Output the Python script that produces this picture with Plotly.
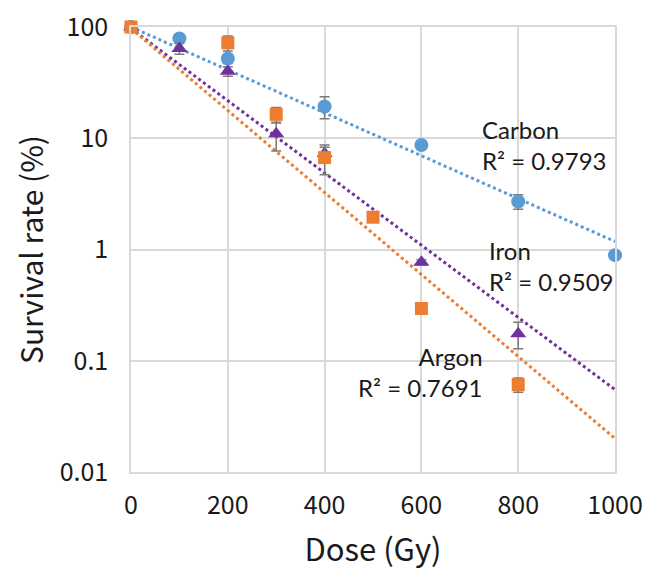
import plotly.graph_objects as go

# ---- data ----
carbon_dose = [0, 100, 200, 400, 600, 800, 1000]
carbon_surv = [100, 79, 52, 19.3, 8.7, 2.7, 0.89]
carbon_err = [0, 4, 5, 4.3, 0.3, 0.4, 0.03]

iron_dose = [0, 100, 200, 300, 400, 600, 800]
iron_surv = [100, 64, 40, 11, 7.3, 0.77, 0.175]
iron_err_plus = [0, 7, 4, 2.7, 1.0, 0.04, 0.047]
iron_err_minus = [0, 7, 4, 3.3, 1.0, 0.04, 0.047]

argon_dose = [0, 200, 300, 400, 500, 600, 800]
argon_surv = [100, 72, 16.4, 6.7, 1.95, 0.295, 0.061]
argon_err = [10, 11, 2.5, 2.0, 0.05, 0.01, 0.009]

# exponential trendline end values (at dose 0 and 1000)
trend_dose = [0, 1000]
carbon_trend = [100, 1.18]
iron_trend = [97, 0.055]
argon_trend = [97, 0.020]

labels = ["Carbon", "Iron", "Argon"]
r2_labels = ["R² = 0.9793", "R² = 0.9509", "R² = 0.7691"]

y_ticks = [0.01, 0.1, 1, 10, 100]
y_ticktext = ["0.01", "0.1", "1", "10", "100"]
x_ticks = [0, 200, 400, 600, 800, 1000]

BLUE = "#5B9BD5"
ORANGE = "#ED7D31"
PURPLE = "#7030A0"
ERR = "#7a7a7a"
FONT = "Noto Sans CJK JP"
ANN_FONT = "Lato"
TXT = "#1a1a1a"

fig = go.Figure()

for ty, col in [(carbon_trend, BLUE), (iron_trend, PURPLE), (argon_trend, ORANGE)]:
    fig.add_trace(go.Scatter(x=trend_dose, y=ty, mode="lines",
                             line=dict(color=col, width=3, dash="dot"),
                             hoverinfo="skip", cliponaxis=False))

fig.add_trace(go.Scatter(
    x=carbon_dose, y=carbon_surv, mode="markers", name="Carbon",
    marker=dict(symbol="circle", size=14, color=BLUE),
    error_y=dict(type="data", array=carbon_err, color=ERR, thickness=1.5, width=5),
    cliponaxis=False))
fig.add_trace(go.Scatter(
    x=iron_dose, y=iron_surv, mode="markers", name="Iron",
    marker=dict(symbol="triangle-up", size=14, color=PURPLE),
    error_y=dict(type="data", array=iron_err_plus, arrayminus=iron_err_minus,
                 symmetric=False, color=ERR, thickness=1.5, width=5),
    cliponaxis=False))
fig.add_trace(go.Scatter(
    x=argon_dose, y=argon_surv, mode="markers", name="Argon",
    marker=dict(symbol="square", size=13, color=ORANGE),
    error_y=dict(type="data", array=argon_err, color=ERR, thickness=1.5, width=5),
    cliponaxis=False))

# plot area in page pixels (the page adds an 8px body margin)
OFF = 8
W, H = 658 - OFF, 572 - OFF
L, R_, T, B = 131, 615, 27, 472
def px(xp):
    return (xp - L) / (R_ - L)
def py(yp):
    return (B - yp) / (B - T)

ann = [
    (labels[0], r2_labels[0], 480, 145, "left"),
    (labels[1], r2_labels[1], 487, 266, "left"),
    (labels[2], r2_labels[2], 485, 372, "right"),
]
for name, r2, xp, yp, anc in ann:
    fig.add_annotation(text=name + "<br>" + r2, x=px(xp), y=py(yp),
                       xref="paper", yref="paper", align=anc,
                       xanchor=anc, yanchor="middle", showarrow=False,
                       font=dict(family=ANN_FONT, size=24, color=TXT))

axis_common = dict(showgrid=True, gridcolor="#d9d9d9", gridwidth=1.5,
                   showline=True, mirror=True, linecolor="#d9d9d9", linewidth=1.5,
                   zeroline=False, ticks="", automargin=False,
                   ticklabeloverflow="allow",
                   tickfont=dict(family=FONT, size=25, color=TXT))

fig.update_xaxes(range=[0, 1000], tickvals=x_ticks, ticklabelstandoff=10,
                 title=dict(text="Dose (Gy)", font=dict(family=FONT, size=31, color=TXT),
                            standoff=20),
                 **axis_common)
fig.update_yaxes(type="log", range=[-2, 2], tickvals=y_ticks, ticktext=y_ticktext,
                 ticklabelstandoff=16,
                 title=dict(text="Survival rate (%)", font=dict(family=FONT, size=30, color=TXT),
                            standoff=12),
                 **axis_common)

fig.update_layout(width=W, height=H, showlegend=False,
                  margin=dict(l=L - OFF, r=W - (R_ - OFF), t=T - OFF, b=H - (B - OFF)),
                  plot_bgcolor="white", paper_bgcolor="white",
                  font=dict(family=FONT))

fig.write_html("out.html")
